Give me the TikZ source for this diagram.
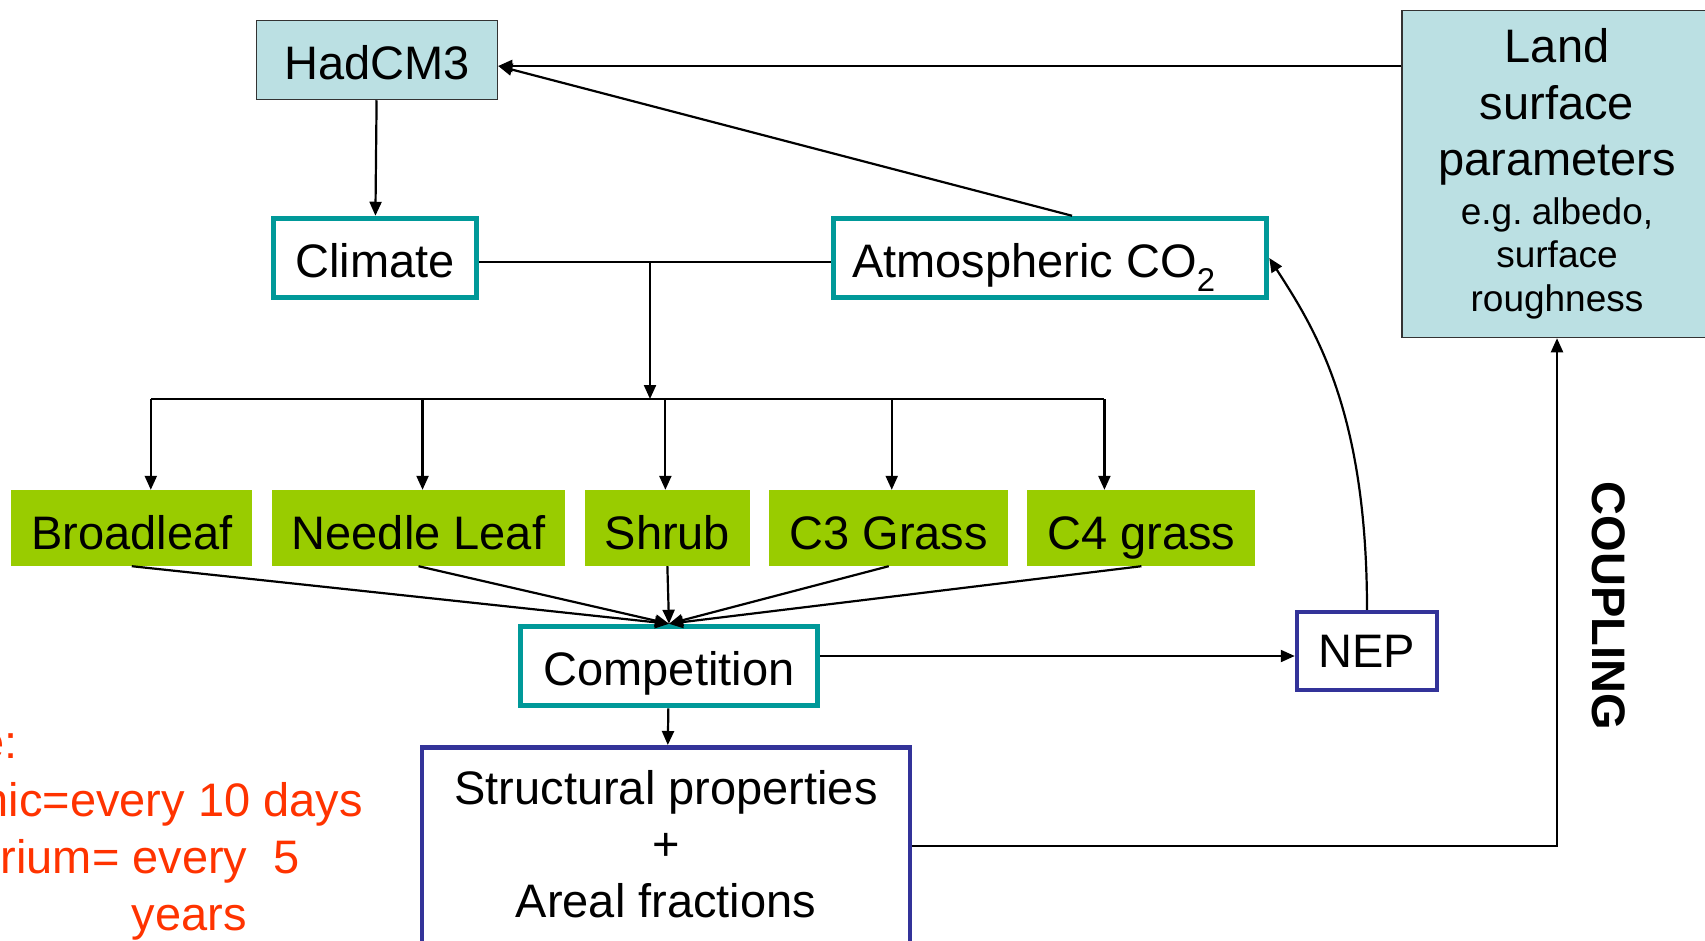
\documentclass[tikz,border=0pt]{standalone}
\usepackage{fontspec}
\setmainfont{Liberation Sans}
\usetikzlibrary{positioning, arrows.meta}
\usepackage{xcolor}
\definecolor{paleblue}{RGB}{187,224,227}
\definecolor{tealline}{RGB}{0,153,153}
\definecolor{pftgreen}{RGB}{153,204,0}
\definecolor{navyline}{RGB}{51,51,153}
\definecolor{noteorange}{RGB}{255,51,0}
\newcommand{\bigtext}{\fontsize{47}{56.5}\selectfont}
\newcommand{\smalltext}{\fontsize{37}{43.5}\selectfont}

\begin{document}
\begin{tikzpicture}[
    x=1pt, y=-1pt,
    font=\bigtext,
    model/.style={rectangle, draw=black!80, line width=1.5pt, fill=paleblue, align=center},
    stage/.style={rectangle, draw=tealline, line width=5.5pt, fill=white, minimum height=79pt, text height=38pt, text depth=0pt},
    pft/.style={rectangle, fill=pftgreen, inner xsep=20pt, inner ysep=0pt, minimum height=76pt, text height=42pt, text depth=0pt},
    result/.style={rectangle, draw=navyline, line width=4.5pt, fill=white, align=center},
    note/.style={anchor=base east, inner sep=0pt, text=noteorange},
    arrow/.style={-{Triangle[length=14pt, width=12pt]}, line width=2.2pt},
    plain/.style={line width=2.2pt}
  ]
  \useasboundingbox (0,0) rectangle (1705,940);

  % Driving model and forcings
  \node[model, minimum width=241pt, minimum height=79pt, text height=38pt, text depth=0pt] (hadcm) at (377,60) {HadCM3};
  \node[stage, minimum width=433pt] (co2) at (1050,258) {Atmospheric CO\textsubscript{2}\kern32pt};
  \node[stage, minimum width=203pt] (climate) at (375,258) {Climate};
  \node[model, minimum width=310pt, minimum height=327pt, text width=280pt] (land) at (1557,174)
    {Land\\surface\\parameters\par\vspace{5pt}\smalltext e.g.\hspace{0.25em}albedo,\\surface\\roughness\par};

  % Plant functional types
  \node[pft, anchor=west] (broadleaf) at (11,528) {Broadleaf};
  \node[pft, right=19pt of broadleaf] (needle) {Needle Leaf};
  \node[pft, right=19pt of needle] (shrub) {Shrub};
  \node[pft, right=19pt of shrub] (c3) {C3 Grass};
  \node[pft, right=19pt of c3] (c4) {C4 grass};

  % Competition and outputs
  \node[stage, minimum width=297pt] (competition) at (669,666) {Competition};
  \node[result, minimum width=140pt, minimum height=78pt] (nep) at (1367,651) {NEP};
  \node[result, minimum width=488pt, anchor=north, inner ysep=23pt, text depth=40pt] (structure) at (666,745)
    {Structural properties\\+\\Areal fractions};

  % Timescale note (cut at the left edge)
  \node[note] (tsHead) at (18,758) {e:};
  \node[note] (tsDyn) at (363,816) {nic=every 10 days};
  \node[note] (tsEq) at (300,873) {rium= every~~5};
  \node[note] (tsYears) at (247,930) {years};

  \node[font=\bigtext\bfseries, rotate=-90] (coupling) at (1609,606) {COUPLING};

  % Connectors
  \draw[arrow] (land.west |- hadcm.east) ++(0,6) -- ([yshift=-6pt]hadcm.east);
  \draw[arrow] ([xshift=22pt]co2.north) -- ([yshift=-6pt]hadcm.east);
  \draw[arrow] (hadcm) -- (climate);
  \coordinate (bus) at (650,399);
  \draw[plain] ([yshift=-4pt]climate.east) -- ([yshift=-4pt]co2.west);
  \draw[arrow] ([yshift=-4pt]bus |- climate.east) -- (bus);
  \foreach \pft/\dx in {broadleaf/19, needle/4, shrub/-2, c3/3, c4/-37} {
    \coordinate (\pft-in) at ([xshift=\dx pt]\pft.north);
    \draw[arrow] (bus -| \pft-in) -- (\pft-in);
  }
  \draw[plain] (bus -| broadleaf-in) -- (bus -| c4-in);
  \foreach \pft in {broadleaf, needle, shrub, c3, c4}
    \draw[arrow] (\pft.south) -- (competition.north);
  \draw[arrow] (competition) -- (structure);
  \draw[arrow] ([yshift=10pt]competition.east) -- ([yshift=10pt]competition.east -| nep.west);
  \draw[arrow] (nep.north) .. controls +(0,-200) and +(45,70) .. (co2.east);
  \draw[arrow] ([yshift=18pt]structure.east) -| (land.south);
\end{tikzpicture}
\end{document}
